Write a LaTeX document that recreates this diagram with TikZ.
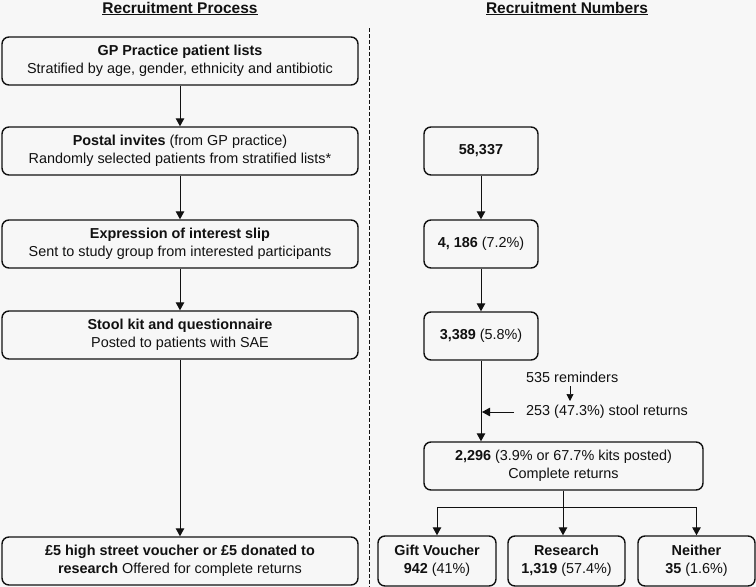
\documentclass[tikz,border=0pt]{standalone}
\usepackage{fontspec}
\setmainfont{Liberation Sans}
\usetikzlibrary{arrows.meta}
\definecolor{bg}{HTML}{F7F7F7}
\definecolor{ink}{HTML}{111111}
\begin{document}
\begin{tikzpicture}[x=1pt,y=-1pt,
  box/.style={draw=ink,line width=1.4pt,rounded corners=7pt,fill=bg,align=center,inner sep=0pt,
    font=\fontsize{14.4}{18.5}\selectfont,text=ink},
  wide/.style={box,minimum width=356pt,minimum height=48pt},
  num/.style={box,minimum width=114pt,minimum height=48pt},
  small/.style={box,minimum width=117pt,minimum height=50pt},
  arr/.style={draw=ink,line width=1pt,-{Triangle[length=8pt,width=8.5pt]}},
  lbl/.style={font=\fontsize{14.4}{18}\selectfont,text=ink,inner sep=0pt},
  head/.style={font=\fontsize{15.5}{18}\bfseries,text=ink,inner sep=0pt,anchor=base}]
\useasboundingbox[fill=bg] (0,0) rectangle (756,587);
% headings
\node[head] (hp) at (180,13) {\underline{Recruitment Process}};
\node[head] (hn) at (567,13) {\underline{Recruitment Numbers}};
% divider
\coordinate (dt) at (369,28);
\coordinate (db) at (369,587);
\draw[ink,line width=0.8pt,dash pattern=on 3.5pt off 2.5pt] (dt) -- (db);
% left column
\node[wide] (b1) at (180,61) {\textbf{GP Practice patient lists}\\Stratified by age, gender, ethnicity and antibiotic};
\node[wide] (b2) at (180,151) {\textbf{Postal invites} (from GP practice)\\Randomly selected patients from stratified lists*};
\node[wide] (b3) at (180,244) {\textbf{Expression of interest slip}\\Sent to study group from interested participants};
\node[wide] (b4) at (180,335) {\textbf{Stool kit and questionnaire}\\Posted to patients with SAE};
\node[wide] (b5) at (180,561) {\textbf{£5 high street voucher or £5 donated to}\\\textbf{research} Offered for complete returns};
\draw[arr] (b1) -- (b2);
\draw[arr] (b2) -- (b3);
\draw[arr] (b3) -- (b4);
\draw[arr] (b4) -- (b5);
% right column
\node[num] (r1) at (481,151) {\textbf{58,337}};
\node[num] (r2) at (481,244) {\textbf{4, 186} (7.2\%)};
\node[num] (r3) at (481,336) {\textbf{3,389} (5.8\%)};
\node[box,minimum width=279pt,minimum height=48pt] (r4) at (563.5,466) {\textbf{2,296} (3.9\% or 67.7\% kits posted)\\Complete returns};
\draw[arr] (r1) -- (r2);
\draw[arr] (r2) -- (r3);
\draw[arr] (r3.south) -- (r3.south |- r4.north);
% reminders
\node[lbl,anchor=west] (rem) at (526,377) {535 reminders};
\node[lbl,anchor=west] (sr) at (526,412) {253 (47.3\%) stool returns};
\coordinate (ra) at (570,386);
\coordinate (rb) at (570,401);
\draw[draw=ink,line width=0.7pt,-{Triangle[length=7pt,width=7pt]}] (ra) -- (rb);
\coordinate (sl) at (514,412);
\coordinate (sj) at (482,412);
\draw[arr] (sl) -- (sj);
% bottom boxes
\node[small,minimum width=118pt] (g1) at (437,561) {\textbf{Gift Voucher}\\\textbf{942} (41\%)};
\node[small] (g2) at (566.5,561) {\textbf{Research}\\\textbf{1,319} (57.4\%)};
\node[small] (g3) at (696.5,561) {\textbf{Neither}\\\textbf{35} (1.6\%)};
\coordinate (bj) at (563,507);
\draw[draw=ink,line width=1pt] (r4.south -| bj) -- (bj);
\draw[draw=ink,line width=1pt] (bj -| g1) -- (bj -| g3);
\draw[arr] (bj -| g1) -- (g1.north);
\draw[arr] (bj) -- (bj |- g2.north);
\draw[arr] (bj -| g3) -- (g3.north);
\end{tikzpicture}
\end{document}
